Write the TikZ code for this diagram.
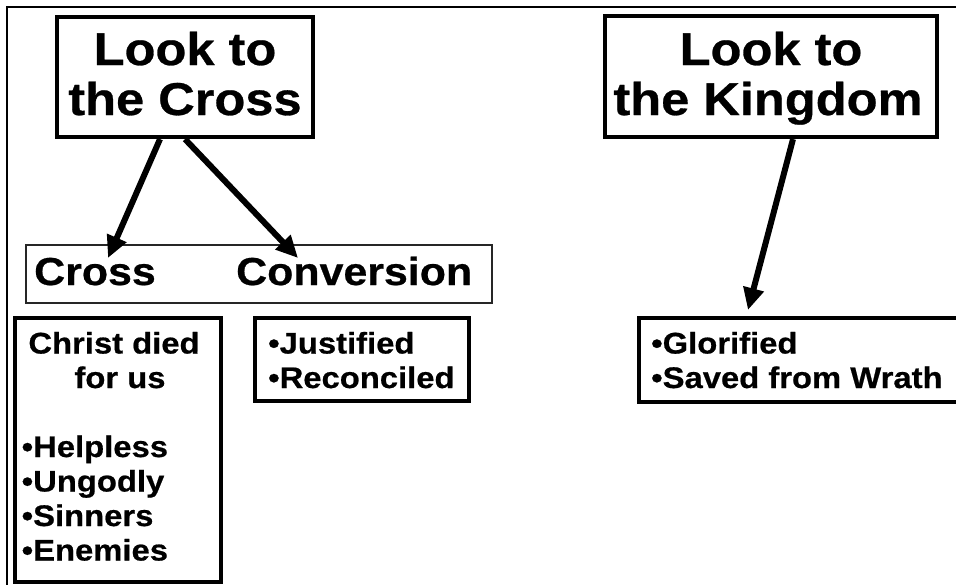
\documentclass[tikz,border=0pt]{standalone}
\usepackage{fontspec}
\newfontfamily\lab{Liberation Sans}[FakeStretch=1.1,FakeBold=0.6]
\usetikzlibrary{arrows.meta}
\begin{document}
\begin{tikzpicture}[x=1pt,y=-1pt,
  bigbox/.style={draw, line width=4.2pt, inner sep=0pt},
  smallbox/.style={draw, line width=3.5pt, inner sep=0pt},
  thinbox/.style={draw=black!85, line width=1.5pt, inner sep=0pt},
  bigtxt/.style={inner sep=0pt, font=\lab\bfseries\fontsize{46}{50}\selectfont},
  midtxt/.style={inner sep=0pt, font=\lab\bfseries\fontsize{39}{42}\selectfont},
  smalltxt/.style={inner sep=0pt, font=\lab\bfseries\fontsize{29.8}{34}\selectfont},
  arr/.style={line width=6pt, -{Triangle[length=22pt,width=20pt]}},
  frame/.style={line width=2.4pt}]
\useasboundingbox (0,0) rectangle (956,584);
\clip (0,0) rectangle (956,584);
\fill[white] (0,0) rectangle (956,584);
% outer frame
\draw[frame] (7,590) -- (7,7) -- (960,7);
% top boxes
\node[bigbox, minimum width=256pt, minimum height=120pt] (lookcross) at (185,77) {};
\node[bigtxt, anchor=base] (lc1) at (185,65) {Look to};
\node[bigtxt, anchor=base] (lc2) at (185,115) {the Cross};
\node[bigbox, minimum width=332pt, minimum height=121pt] (lookking) at (771,76.5) {};
\node[bigtxt, anchor=base] (lk1) at (771,65) {Look to};
\node[bigtxt, anchor=base] (lk2) at (768,115) {the Kingdom};
% middle box
\node[thinbox, minimum width=466pt, minimum height=58pt] (mid) at (259,274) {};
\node[midtxt, anchor=base west] (cross) at (34,285) {Cross};
\node[midtxt, anchor=base west] (conv) at (236,285) {Conversion};
% lower boxes
\node[smallbox, minimum width=206pt, minimum height=264pt] (christ) at (118,450) {};
\node[smalltxt, anchor=base] (c1) at (114,353.5) {Christ died};
\node[smalltxt, anchor=base] (c2) at (120,388) {for us};
\node[smalltxt, anchor=base west] (c3) at (21.5,457) {•Helpless};
\node[smalltxt, anchor=base west] (c4) at (21.5,491.5) {•Ungodly};
\node[smalltxt, anchor=base west] (c5) at (21.5,526) {•Sinners};
\node[smalltxt, anchor=base west] (c6) at (21.5,560.5) {•Enemies};
\node[smallbox, minimum width=214pt, minimum height=83pt] (just) at (362,359.5) {};
\node[smalltxt, anchor=base west] (j1) at (268,353.5) {•Justified};
\node[smalltxt, anchor=base west] (j2) at (268,388) {•Reconciled};
\node[smallbox, minimum width=336pt, minimum height=84pt] (glor) at (807,360) {};
\node[smalltxt, anchor=base west] (g1) at (651,353.5) {•Glorified};
\node[smalltxt, anchor=base west] (g2) at (651,388) {•Saved from Wrath};
% arrow targets
\coordinate (tipA) at (108,258);
\coordinate (tipB) at (298,258);
\coordinate (tipC) at (748,310);
\draw[arr] ([xshift=-25pt]lookcross.south) -- (tipA);
\draw[arr] (lookcross.south) -- (tipB);
\draw[arr] ([xshift=22pt]lookking.south) -- (tipC);
\end{tikzpicture}
\end{document}
